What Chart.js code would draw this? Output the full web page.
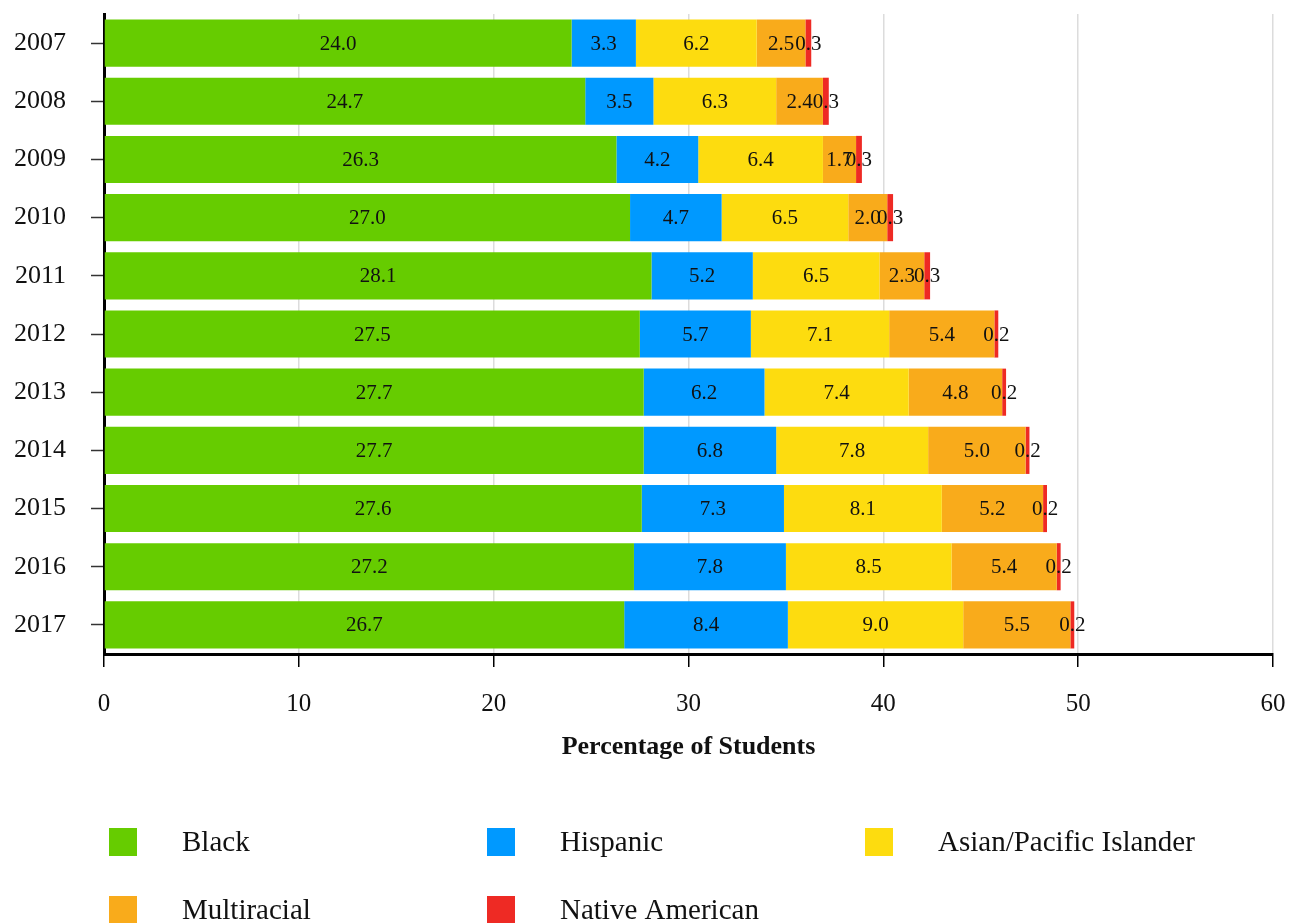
<!DOCTYPE html>
<html>
<head>
<meta charset="utf-8">
<script src="https://cdn.jsdelivr.net/npm/chart.js@4/dist/chart.umd.min.js"></script>
<style>
  html, body { margin: 0; padding: 0; background: #fff; }
  #wrap { width: 1289px; height: 923px; }
</style>
</head>
<body>
<div id="wrap"><canvas id="chart" width="1289" height="923"></canvas></div>
<script>
// Share of students by race/ethnicity, per school year
const years = ['2007', '2008', '2009', '2010', '2011', '2012', '2013', '2014', '2015', '2016', '2017'];
const black = [24.0, 24.7, 26.3, 27.0, 28.1, 27.5, 27.7, 27.7, 27.6, 27.2, 26.7];
const hispanic = [3.3, 3.5, 4.2, 4.7, 5.2, 5.7, 6.2, 6.8, 7.3, 7.8, 8.4];
const asianPacific = [6.2, 6.3, 6.4, 6.5, 6.5, 7.1, 7.4, 7.8, 8.1, 8.5, 9.0];
const multiracial = [2.5, 2.4, 1.7, 2.0, 2.3, 5.4, 4.8, 5.0, 5.2, 5.4, 5.5];
const nativeAmerican = [0.3, 0.3, 0.3, 0.3, 0.3, 0.2, 0.2, 0.2, 0.2, 0.2, 0.2];
const seriesNames = ['Black', 'Hispanic', 'Asian/Pacific Islander', 'Multiracial', 'Native American'];
const xTickValues = [0, 10, 20, 30, 40, 50, 60];
const axisTitle = 'Percentage of Students';

const seriesColors = ['#66CC00', '#0099FF', '#FDDC0F', '#F9AB1B', '#EE2A24'];
const serif = '"Liberation Serif", "Times New Roman", serif';

// Writes each segment's value at its centre
const valueLabels = {
  id: 'valueLabels',
  afterDatasetsDraw(chart) {
    const ctx = chart.ctx;
    ctx.save();
    ctx.font = '21px ' + serif;
    ctx.fillStyle = '#111';
    ctx.textAlign = 'center';
    ctx.textBaseline = 'middle';
    chart.data.datasets.forEach((ds, i) => {
      chart.getDatasetMeta(i).data.forEach((bar, j) => {
        const p = bar.getCenterPoint();
        ctx.fillText(ds.data[j].toFixed(1), p.x, p.y + 1);
      });
    });
    ctx.restore();
  }
};

// Three-column legend under the axis title
const gridLegend = {
  id: 'gridLegend',
  afterDraw(chart) {
    const ctx = chart.ctx;
    const colX = [109, 487, 865];
    const rowY = [842, 910];
    ctx.save();
    ctx.font = '29px ' + serif;
    ctx.textAlign = 'left';
    ctx.textBaseline = 'middle';
    chart.data.datasets.forEach((ds, i) => {
      const x = colX[i % 3];
      const y = rowY[Math.floor(i / 3)];
      ctx.fillStyle = ds.backgroundColor;
      ctx.fillRect(x, y - 14, 28, 28);
      ctx.fillStyle = '#111';
      ctx.fillText(ds.label, x + 73, y + 1);
    });
    ctx.restore();
  }
};

const seriesData = [black, hispanic, asianPacific, multiracial, nativeAmerican];

new Chart(document.getElementById('chart'), {
  type: 'bar',
  data: {
    labels: years,
    datasets: seriesNames.map((name, i) => ({
      label: name,
      data: seriesData[i],
      backgroundColor: seriesColors[i],
      borderWidth: 0,
      categoryPercentage: 1,
      barPercentage: 0.81
    }))
  },
  options: {
    indexAxis: 'y',
    responsive: false,
    animation: false,
    layout: { padding: { top: 14, right: 16, left: 0, bottom: 0 } },
    plugins: {
      legend: { display: false },
      tooltip: { enabled: false }
    },
    scales: {
      x: {
        stacked: true,
        min: 0,
        max: 60,
        afterBuildTicks(scale) { scale.ticks = xTickValues.map(v => ({ value: v })); },
        afterFit(scale) {
          scale.height = 923 - 654;
          scale.paddingLeft = 0;
          scale.paddingRight = 0;
        },
        grid: { color: '#dcdcdc', lineWidth: 1.5, tickColor: '#000', tickLength: 13, tickWidth: 1.5 },
        border: { color: '#000', width: 3 },
        ticks: { color: '#111', font: { family: serif, size: 25 }, padding: 22 },
        title: {
          display: true,
          text: axisTitle,
          color: '#111',
          font: { family: serif, size: 26, weight: 'bold' },
          padding: { top: 0, bottom: 160 }
        }
      },
      y: {
        stacked: true,
        afterFit(scale) {
          scale.width = 104;
          scale.paddingTop = 0;
          scale.paddingBottom = 0;
        },
        grid: { drawOnChartArea: false, offset: false, tickColor: '#333', tickLength: 13, tickWidth: 1.5 },
        border: { color: '#000', width: 3 },
        ticks: { color: '#111', font: { family: serif, size: 26 }, padding: 25 }
      }
    }
  },
  plugins: [valueLabels, gridLegend]
});
</script>
</body>
</html>
